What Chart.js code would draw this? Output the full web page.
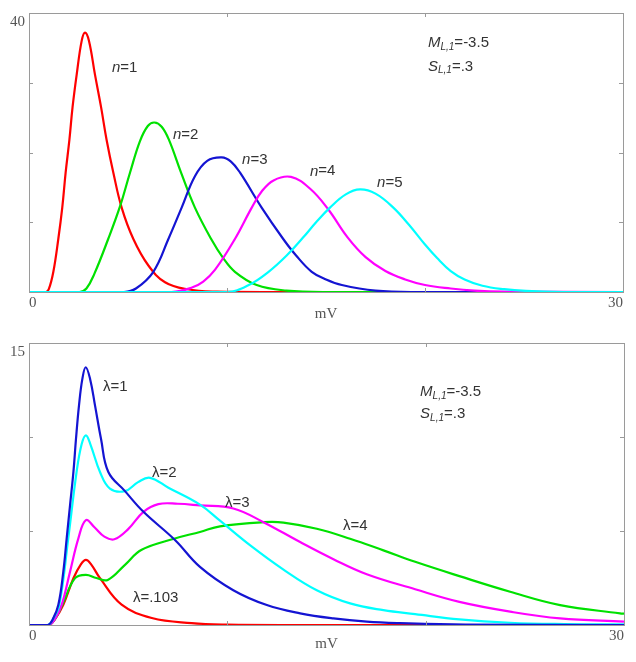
<!DOCTYPE html>
<html>
<head>
<meta charset="utf-8">
<script src="https://cdn.jsdelivr.net/npm/chart.js@4.4.1/dist/chart.umd.min.js"></script>
<style>
  html, body { margin: 0; padding: 0; background: #fff; }
  #wrap { position: relative; width: 636px; height: 662px; }
  canvas { position: absolute; left: 0; }
  #topChart { top: 0; }
  #bottomChart { top: 330px; }
</style>
</head>
<body>
<div id="wrap">
  <canvas id="topChart" width="636" height="330"></canvas>
  <canvas id="bottomChart" width="636" height="332"></canvas>
</div>
<script>
// values as [mV, density] pairs

// top panel: n quanta
const n1 = [[0,0],[0.85,0],[1.0,0.4],[1.23,2.9],[1.48,7.6],[1.68,12.1],[1.85,17.1],[2.04,21.8],[2.2,26.5],[2.41,31.2],[2.66,36],[2.83,37.2],[3.03,36],[3.33,31.2],[3.64,26.5],[3.92,21.8],[4.26,17.1],[4.68,12.1],[5.27,7.6],[6.03,3.8],[6.87,1.4],[8.0,0.4],[9.5,0.05],[12,0],[30,0]];
const n2 = [[0,0],[2.55,0],[2.9,0.5],[3.3,2.6],[4.0,7.6],[4.6,12.3],[5.1,17.1],[5.6,21.6],[6.0,23.8],[6.33,24.3],[6.7,23.7],[7.07,21.8],[7.68,17.1],[8.38,12.1],[9.2,7.6],[9.8,4.9],[10.4,2.9],[11.5,1.0],[13,0.2],[15,0],[30,0]];
const n3 = [[0,0],[4.8,0],[5.4,0.5],[6.28,2.9],[7.04,7.6],[7.71,12.1],[8.38,16.6],[9.0,18.8],[9.73,19.3],[10.2,18.7],[10.66,17.1],[11.75,12.1],[12.84,7.6],[13.5,5.2],[14.28,2.9],[15.0,1.8],[15.8,1.0],[17.5,0.2],[19.5,0],[30,0]];
const n4 = [[0,0],[7.2,0],[8.2,0.6],[8.8,1.5],[9.4,3.2],[10.4,7.6],[11.25,12.1],[11.75,14.4],[12.35,16.0],[13.23,16.5],[14.2,14.8],[15.1,11.9],[16.1,7.8],[17.0,5.0],[18.0,3.0],[19.0,1.8],[20.0,1.0],[21.3,0.5],[22.5,0.2],[24,0.05],[30,0]];
const n5 = [[0,0],[10.0,0],[11.1,1.0],[12.1,2.9],[13.0,5.2],[13.84,7.8],[14.5,10.0],[15.2,12.1],[16.0,14.0],[16.72,14.7],[17.5,14.1],[18.4,12.1],[19.2,9.6],[20.0,6.8],[20.6,4.9],[21.3,3.0],[22.0,1.8],[22.9,0.9],[24.0,0.4],[25.1,0.15],[27,0],[30,0]];

// bottom panel: mixtures for several lambda
const lam1 = [[0,0],[0.95,0],[1.2,0.3],[1.48,1.08],[1.73,2.84],[1.9,4.61],[2.07,6.38],[2.24,8.14],[2.37,9.91],[2.52,11.67],[2.69,13.09],[2.86,13.71],[3.08,13.09],[3.33,11.67],[3.63,9.91],[4.0,8.14],[4.84,7.12],[5.77,6.02],[7.36,4.52],[8.62,3.09],[10.3,1.85],[11.99,1.06],[13.67,0.62],[15.35,0.35],[17.03,0.18],[18.7,0.1],[22,0.02],[30,0]];
const lam2 = [[0,0],[0.95,0],[1.2,0.3],[1.53,1.08],[1.98,4.61],[2.4,8.14],[2.65,9.6],[2.87,10.09],[3.1,9.6],[3.58,8.14],[4.08,7.26],[4.84,7.12],[5.5,7.6],[6.1,7.83],[7.03,7.3],[8.62,6.4],[9.63,5.55],[11.14,4.25],[12.83,2.95],[14.51,1.85],[16.19,1.15],[17.87,0.79],[19.47,0.58],[21.7,0.3],[24.26,0.12],[27,0.05],[30,0.03]];
const lam3 = [[0,0],[1.0,0],[1.3,0.3],[1.65,1.08],[2.07,2.84],[2.49,4.61],[2.87,5.58],[3.3,5.2],[3.8,4.7],[4.3,4.56],[5.0,5.1],[5.77,6.02],[6.52,6.43],[7.5,6.45],[8.62,6.36],[10.3,6.2],[11.82,5.47],[13.67,4.41],[15.35,3.5],[17.03,2.7],[19.47,1.9],[21.7,1.23],[24.26,0.71],[26.78,0.35],[30,0.18]];
const lam4 = [[0,0],[1.0,0],[1.3,0.3],[1.68,1.08],[2.32,2.49],[2.87,2.67],[3.4,2.5],[3.97,2.4],[4.84,3.2],[5.68,4.0],[7.36,4.6],[8.62,4.95],[9.63,5.25],[11.82,5.47],[12.83,5.45],[14.51,5.12],[16.19,4.59],[17.87,3.97],[19.47,3.36],[21.7,2.6],[24.26,1.77],[26.78,1.06],[29.8,0.62],[30,0.6]];
const lam103 = [[0,0],[1.0,0],[1.3,0.3],[1.73,1.08],[2.24,2.49],[2.6,3.2],[2.87,3.46],[3.15,3.2],[3.58,2.49],[4.67,1.08],[6.19,0.37],[8.2,0.1],[10,0.02],[13,0],[30,0]];

// axes
const xRange = [0, 30];
const topYRange = [0, 40];
const bottomYRange = [0, 15];
const xLabelTicks = [0, 30];

// text notes: [text, x mV, y value]
const topNotes = [['n=1', 4.19, 32.1], ['n=2', 7.27, 22.6], ['n=3', 10.76, 19.0], ['n=4', 14.19, 17.3], ['n=5', 17.58, 15.6]];
const bottomNotes = [['λ=1', 3.73, 12.67], ['λ=2', 6.2, 8.1], ['λ=3', 9.88, 6.52], ['λ=4', 15.83, 5.25], ['λ=.103', 5.24, 1.43]];
const topParams = [20.15, 35.7, 32.3];
const bottomParams = [19.72, 12.4, 11.23];

const RED = 'rgb(255,0,0)', GREEN = 'rgb(0,225,0)', BLUE = 'rgb(20,20,210)', MAGENTA = 'rgb(255,0,255)', CYAN = 'rgb(0,255,255)';
const NOTE_FONT = '15px "Liberation Sans", Arial, sans-serif';
const NOTE_FONT_IT = 'italic 15px "Liberation Sans", Arial, sans-serif';
const SUB_FONT_IT = 'italic 10px "Liberation Sans", Arial, sans-serif';
const NOTE_COLOR = '#333';

const toXY = pts => pts.map(([x, y]) => ({ x: x, y: y }));

function line(pts, color, order) {
    return {
        data: toXY(pts),
        borderColor: color,
        borderWidth: 2.2,
        pointRadius: 0,
        fill: false,
        tension: 0.4,
        order: order
    };
}

// frame around the plot with inward ticks, then the text notes
const framePlugin = {
    id: 'frame',
    afterDraw(chart, args, opts) {
        const ctx = chart.ctx;
        const a = chart.chartArea;
        const xs = chart.scales.x, ys = chart.scales.y;
        ctx.save();
        ctx.strokeStyle = '#9a9a9a';
        ctx.lineWidth = 1;
        ctx.strokeRect(a.left + 0.5, a.top + 0.5, a.right - a.left, a.bottom - a.top);
        ctx.beginPath();
        xs.ticks.forEach(t => {
            if (t.value <= xs.min || t.value >= xs.max) return;
            const px = Math.round(xs.getPixelForValue(t.value)) + 0.5;
            ctx.moveTo(px, a.bottom); ctx.lineTo(px, a.bottom - 4);
            ctx.moveTo(px, a.top); ctx.lineTo(px, a.top + 4);
        });
        ys.ticks.forEach(t => {
            if (t.value <= ys.min || t.value >= ys.max) return;
            const py = Math.round(ys.getPixelForValue(t.value)) + 0.5;
            ctx.moveTo(a.left, py); ctx.lineTo(a.left + 4, py);
            ctx.moveTo(a.right, py); ctx.lineTo(a.right - 4, py);
        });
        ctx.stroke();

        ctx.fillStyle = NOTE_COLOR;
        ctx.textBaseline = 'middle';
        ctx.textAlign = 'left';
        opts.notes.forEach(([txt, x, y]) => {
            let px = xs.getPixelForValue(x);
            const py = ys.getPixelForValue(y);
            if (txt.startsWith('n')) {
                ctx.font = NOTE_FONT_IT;
                ctx.fillText('n', px, py);
                px += ctx.measureText('n').width;
                ctx.font = NOTE_FONT;
                ctx.fillText(txt.slice(1), px, py);
            } else {
                ctx.font = NOTE_FONT;
                ctx.fillText(txt, px, py);
            }
        });

        const [px0, yM, yS] = opts.params;
        const drawParam = (letter, value, yv) => {
            let px = xs.getPixelForValue(px0);
            const py = ys.getPixelForValue(yv);
            ctx.font = NOTE_FONT_IT;
            ctx.fillText(letter, px, py);
            px += ctx.measureText(letter).width;
            ctx.font = SUB_FONT_IT;
            ctx.fillText('L,1', px, py + 4);
            px += ctx.measureText('L,1').width;
            ctx.font = NOTE_FONT;
            ctx.fillText(value, px, py);
        };
        drawParam('M', '=-3.5', yM);
        drawParam('S', '=.3', yS);
        ctx.restore();
    }
};

function makeChart(id, datasets, yRange, yStep, notes, params, pad, axisH, titlePad) {
    const tickFont = { family: '"Liberation Serif", "Times New Roman", serif', size: 15 };
    return new Chart(document.getElementById(id), {
        type: 'line',
        data: { datasets: datasets },
        options: {
            responsive: false,
            animation: false,
            devicePixelRatio: 1,
            layout: { padding: { top: pad.top, right: pad.right, left: 0, bottom: 0 } },
            plugins: {
                legend: { display: false },
                tooltip: { enabled: false },
                frame: { notes: notes, params: params }
            },
            scales: {
                x: {
                    type: 'linear',
                    min: xRange[0], max: xRange[1],
                    grid: { display: false, drawTicks: false },
                    border: { display: false },
                    ticks: {
                        stepSize: 10,
                        align: 'inner',
                        padding: 2,
                        maxRotation: 0,
                        color: '#555',
                        font: tickFont,
                        callback: v => xLabelTicks.includes(v) ? String(v) : ''
                    },
                    title: {
                        display: true,
                        text: 'mV',
                        color: '#555',
                        font: tickFont,
                        padding: { top: 0, bottom: titlePad }
                    },
                    afterFit: s => { s.height = axisH; }
                },
                y: {
                    min: yRange[0], max: yRange[1],
                    grid: { display: false, drawTicks: false },
                    border: { display: false },
                    ticks: {
                        stepSize: yStep,
                        padding: 4,
                        labelOffset: 9,
                        color: '#555',
                        font: tickFont,
                        callback: v => v === yRange[1] ? String(v) : ''
                    },
                    afterFit: s => { s.width = 29; }
                }
            }
        },
        plugins: [framePlugin]
    });
}

makeChart('topChart', [
    line(n1, RED, 5),
    line(n2, GREEN, 4),
    line(n3, BLUE, 3),
    line(n4, MAGENTA, 2),
    line(n5, CYAN, 1)
], topYRange, 10, topNotes, topParams, { top: 10, right: 13 }, 38, 7);

makeChart('bottomChart', [
    line(lam103, RED, 5),
    line(lam4, GREEN, 4),
    line(lam3, MAGENTA, 3),
    line(lam2, CYAN, 2),
    line(lam1, BLUE, 1)
], bottomYRange, 5, bottomNotes, bottomParams, { top: 12, right: 12 }, 37, 9);
</script>
</body>
</html>
